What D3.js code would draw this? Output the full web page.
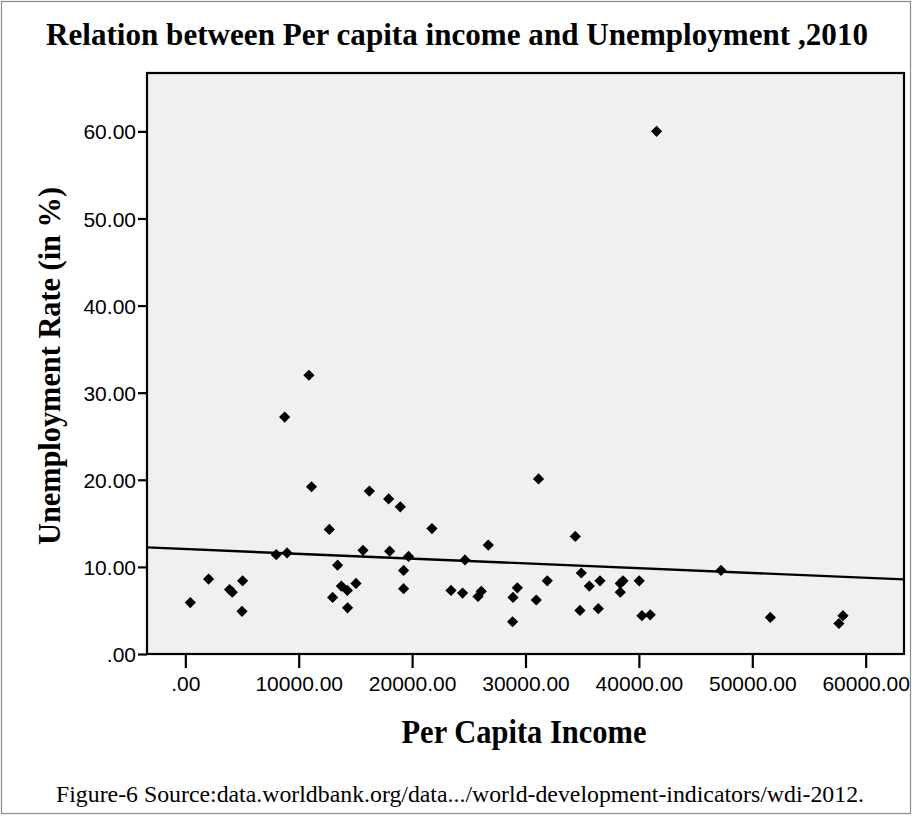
<!DOCTYPE html>
<html>
<head>
<meta charset="utf-8">
<script src="https://cdn.jsdelivr.net/npm/d3@7"></script>
<style>
  html, body { margin: 0; padding: 0; background: #ffffff; }
  svg { display: block; }
</style>
</head>
<body>
<svg id="chart" width="913" height="816"></svg>
<script>
// Per capita income (x) and unemployment rate in % (y), 2010
const incomeValues = [
  440, 2050, 3900, 4140, 5050, 5000, 8020, 8970, 8760, 10900,
  11130, 12700, 13430, 12990, 13760, 14290, 14310, 15050, 15670, 16230,
  17930, 18020, 18960, 19690, 19250, 19250, 21750, 24660, 26720, 23430,
  24450, 25810, 26100, 28900, 29280, 28860, 30950, 31920, 31150, 34390,
  34920, 34800, 35630, 36570, 36420, 38360, 38600, 38360, 40030, 40270,
  41000, 41560, 47240, 51590, 58000, 57640
];
const unemploymentValues = [
  5.9, 8.6, 7.4, 7.1, 8.4, 4.9, 11.4, 11.6, 27.2, 32.0,
  19.2, 14.3, 10.2, 6.5, 7.8, 7.3, 5.3, 8.1, 11.9, 18.7,
  17.8, 11.8, 16.9, 11.2, 9.6, 7.5, 14.4, 10.8, 12.5, 7.3,
  7.0, 6.6, 7.2, 6.5, 7.6, 3.7, 6.2, 8.4, 20.1, 13.5,
  9.3, 5.0, 7.8, 8.4, 5.2, 8.1, 8.4, 7.1, 8.4, 4.4,
  4.5, 60.0, 9.6, 4.2, 4.4, 3.5
];

// Linear fit line: rate = fitIntercept + fitSlope * income
const fitIntercept = 12.05;
const fitSlope = -0.000055;

const xTickValues = [0, 10000, 20000, 30000, 40000, 50000, 60000];
const yTickValues = [0, 10, 20, 30, 40, 50, 60];

const titleText = "Relation between Per capita income and Unemployment ,2010";
const xLabelText = "Per Capita Income";
const yLabelText = "Unemployment Rate (in %)";
const captionText = "Figure-6 Source:data.worldbank.org/data.../world-development-indicators/wdi-2012.";

// SPSS-style number format: 0 -> ".00", others with two decimals
const fmt = v => v === 0 ? ".00" : v.toFixed(2);

const svg = d3.select("#chart");
const plot = { left: 147, right: 904, top: 73, bottom: 654 };

const x = d3.scaleLinear().domain([-3380, 63380]).range([plot.left, plot.right]);
const y = d3.scaleLinear().domain([0, 66.7]).range([plot.bottom, plot.top]);

// outer figure frame
svg.append("rect")
  .attr("x", 1.5).attr("y", 1.5).attr("width", 909).attr("height", 812)
  .attr("fill", "#ffffff").attr("stroke", "#8a8a8a").attr("stroke-width", 1.2);

// title
svg.append("text")
  .attr("x", 457).attr("y", 45)
  .attr("text-anchor", "middle")
  .attr("font-family", "'Liberation Serif', 'Times New Roman', serif")
  .attr("font-weight", "bold")
  .attr("font-size", 32)
  .attr("textLength", 822)
  .attr("lengthAdjust", "spacingAndGlyphs")
  .text(titleText);

// plot background
svg.append("rect")
  .attr("x", plot.left).attr("y", plot.top)
  .attr("width", plot.right - plot.left).attr("height", plot.bottom - plot.top)
  .attr("fill", "#f0f0f0");

// clip for data marks
svg.append("clipPath").attr("id", "plotClip")
  .append("rect")
  .attr("x", plot.left).attr("y", plot.top)
  .attr("width", plot.right - plot.left).attr("height", plot.bottom - plot.top);

// fit line
const [x0, x1] = x.domain();
svg.append("line")
  .attr("clip-path", "url(#plotClip)")
  .attr("x1", x(x0)).attr("y1", y(fitIntercept + fitSlope * x0))
  .attr("x2", x(x1)).attr("y2", y(fitIntercept + fitSlope * x1))
  .attr("stroke", "#000").attr("stroke-width", 2.4);

// scatter points as diamonds
const pts = incomeValues.map((v, i) => ({ inc: v, rate: unemploymentValues[i] }));
const r = 5.6;
svg.append("g").attr("clip-path", "url(#plotClip)")
  .selectAll("path").data(pts).join("path")
  .attr("d", `M0,${-r}L${r},0L0,${r}L${-r},0Z`)
  .attr("transform", d => `translate(${x(d.inc)},${y(d.rate)})`)
  .attr("fill", "#000");

// axes
const xAxis = d3.axisBottom(x).tickValues(xTickValues).tickFormat(fmt).tickSize(14).tickSizeOuter(0);
const yAxis = d3.axisLeft(y).tickValues(yTickValues).tickFormat(fmt).tickSize(9).tickSizeOuter(0);

const gx = svg.append("g").attr("transform", `translate(0,${plot.bottom})`).call(xAxis);
const gy = svg.append("g").attr("transform", `translate(${plot.left},0)`).call(yAxis);

[gx, gy].forEach(g => {
  g.select(".domain").remove();
  g.selectAll(".tick line").attr("stroke", "#000").attr("stroke-width", 2.2);
  g.selectAll(".tick text")
    .attr("fill", "#000")
    .attr("font-family", "'Liberation Sans', Arial, sans-serif")
    .attr("font-size", 21);
});
gx.selectAll(".tick text").attr("y", 22).attr("dy", "0.71em");
gy.selectAll(".tick text").attr("x", -11).attr("dy", "0.36em");

// plot frame
svg.append("rect")
  .attr("x", plot.left).attr("y", plot.top)
  .attr("width", plot.right - plot.left).attr("height", plot.bottom - plot.top)
  .attr("fill", "none").attr("stroke", "#000").attr("stroke-width", 2.2);

// axis titles
svg.append("text")
  .attr("x", 524).attr("y", 743)
  .attr("text-anchor", "middle")
  .attr("font-family", "'Liberation Serif', 'Times New Roman', serif")
  .attr("font-weight", "bold")
  .attr("font-size", 34)
  .attr("textLength", 245)
  .attr("lengthAdjust", "spacingAndGlyphs")
  .text(xLabelText);

svg.append("text")
  .attr("transform", "translate(60,366) rotate(-90)")
  .attr("text-anchor", "middle")
  .attr("font-family", "'Liberation Serif', 'Times New Roman', serif")
  .attr("font-weight", "bold")
  .attr("font-size", 32)
  .attr("textLength", 358)
  .attr("lengthAdjust", "spacingAndGlyphs")
  .text(yLabelText);

// caption
svg.append("text")
  .attr("x", 460).attr("y", 802)
  .attr("text-anchor", "middle")
  .attr("font-family", "'Liberation Serif', 'Times New Roman', serif")
  .attr("font-size", 23)
  .attr("textLength", 808)
  .attr("lengthAdjust", "spacingAndGlyphs")
  .text(captionText);
</script>
</body>
</html>
